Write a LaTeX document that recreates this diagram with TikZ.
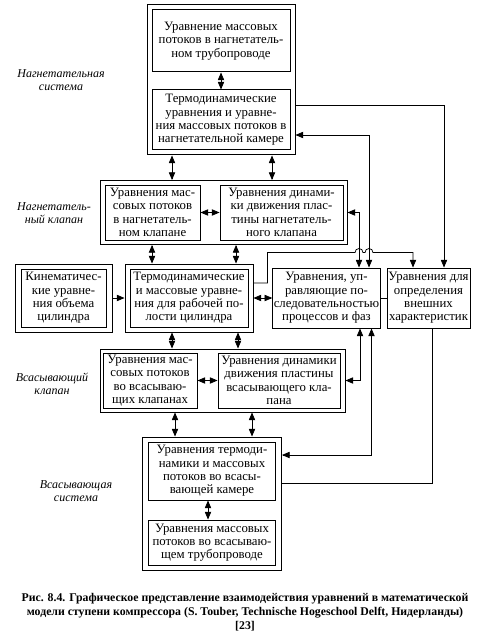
\documentclass[tikz,border=0pt]{standalone}
\usepackage{fontspec}
\setmainfont{Liberation Serif}
\usetikzlibrary{positioning,arrows,calc}
\tikzset{
  eqbox/.style={draw=black, line width=1pt, align=center, inner sep=1pt,
    font=\fontsize{12.8}{13.3}\selectfont},
  frame/.style={draw=black, line width=1pt},
  group/.style={font=\itshape\fontsize{12}{13.5}\selectfont, align=center},
  link/.style={draw=black, line width=0.75pt, >=triangle 45},
  biarrow/.style={link, <->},
  monarrow/.style={link, ->}
}

\begin{document}
\begin{tikzpicture}[x=1pt, y=-1pt]
    \useasboundingbox[fill=white] (0,0) rectangle (501,639);
    % discharge system
    \node[frame, minimum width=148, minimum height=150] (dsys) at (221,80) {};
    \node[eqbox, minimum width=138, minimum height=62] (dpipe) at (221,41)
      {Уравнение массовых\\потоков в нагнетатель-\\ном трубопроводе};
    \node[eqbox, minimum width=138, minimum height=60] (dcham) at (221,120)
      {Термодинамические\\уравнения и уравне-\\ния массовых потоков в\\нагнетательной камере};
    % discharge valve
    \node[frame, minimum width=247, minimum height=64] (dvalve) at (223.5,212.5) {};
    \node[eqbox, minimum width=95, minimum height=55] (dvflow) at (152.5,212.5)
      {Уравнения мас-\\совых потоков\\в нагнетатель-\\ном клапане};
    \node[eqbox, minimum width=123, minimum height=55] (dvdyn) at (281.5,212.5)
      {Уравнения динами-\\ки движения плас-\\тины нагнетатель-\\ного клапана};
    % cylinder row
    \node[frame, minimum width=97, minimum height=68] (kinf) at (63.5,298) {};
    \node[eqbox, minimum width=85, minimum height=58] (kin) at (63.5,298)
      {Кинематичес-\\кие уравне-\\ния объема\\цилиндра};
    \node[frame, minimum width=128, minimum height=68] (cylf) at (189,298) {};
    \node[eqbox, minimum width=118, minimum height=58] (cyl) at (189,298)
      {Термодинамические\\и массовые уравне-\\ния для рабочей по-\\лости цилиндра};
    \node[eqbox, minimum width=107, minimum height=60] (ctrl) at (326.5,298)
      {Уравнения, уп-\\равляющие по-\\следовательностью\\процессов и фаз};
    \node[eqbox, minimum width=83, minimum height=60] (ext) at (428.5,298)
      {Уравнения для\\определения\\внешних\\характеристик};
    % suction valve
    \node[frame, minimum width=245, minimum height=63] (svalve) at (222.5,380.5) {};
    \node[eqbox, minimum width=94, minimum height=55] (svflow) at (150,380.5)
      {Уравнения мас-\\совых потоков\\во всасываю-\\щих клапанах};
    \node[eqbox, minimum width=122, minimum height=55] (svdyn) at (279,380.5)
      {Уравнения динамики\\движения пластины\\всасывающего кла-\\пана};
    % suction system
    \node[frame, minimum width=139, minimum height=133] (ssys) at (212,503.5) {};
    \node[eqbox, minimum width=127, minimum height=58] (scham) at (212,471)
      {Уравнения термоди-\\намики и массовых\\потоков во всасы-\\вающей камере};
    \node[eqbox, minimum width=127, minimum height=45] (spipe) at (212,542.5)
      {Уравнения массовых\\потоков во всасываю-\\щем трубопроводе};
    % labels
    \node[group] (ldsys) at (61,80) {Нагнетательная\\система};
    \node[group] (ldval) at (54,213) {Нагнетатель-\\ный клапан};
    \node[group] (lsval) at (52,384) {Всасывающий\\клапан};
    \node[group] (lssys) at (76,491) {Всасывающая\\система};
    \node[font=\bfseries\fontsize{11.8}{14}\selectfont, align=center] (caption) at (245,612)
      {Рис. 8.4. Графическое представление взаимодействия уравнений в математической\\модели ступени компрессора (S. Touber, Technische Hogeschool Delft, Нидерланды)\\{[23]}};
    %
    \draw[biarrow] (dpipe.south) -- (dcham.north);
    \draw[biarrow] ($(dsys.south)+(-49,0)$) -- ($(dvalve.north)+(-51.5,0)$);
    \draw[biarrow] ($(dsys.south)+(51,0)$) -- ($(dvalve.north)+(48.5,0)$);
    \draw[biarrow] (dvflow) -- (dvdyn);
    \draw[biarrow] ($(dvalve.south)+(-71.5,0)$) -- ($(cylf.north)+(-37,0)$);
    \draw[biarrow] ($(dvalve.south)+(12.5,0)$) -- ($(cylf.north)+(47,0)$);
    \draw[monarrow] (kinf) -- (cylf);
    \draw[biarrow] (cylf) -- (ctrl);
    \draw[link] (ctrl) -- (ext);
    \draw[biarrow] ($(cylf.south)+(-17,0)$) -- ($(svalve.north)+(-50.5,0)$);
    \draw[biarrow] ($(cylf.south)+(49,0)$) -- ($(svalve.north)+(15.5,0)$);
    \draw[biarrow] (svflow) -- (svdyn);
    \draw[biarrow] ($(svalve.south)+(-47.5,0)$) -- ($(ssys.north)+(-37,0)$);
    \draw[biarrow] ($(svalve.south)+(29.5,0)$) -- ($(ssys.north)+(40,0)$);
    \draw[biarrow] ($(scham.south)+(-4,0)$) -- ($(spipe.north)+(-4,0)$);
    % right side feedback lines
    \draw[monarrow] ($(dsys.east)+(0,25)$) -| ($(ext.north)+(15.5,0)$);
    \draw[biarrow] ($(dsys.east)+(0,55)$) -| ($(ctrl.north)+(42.5,0)$);
    \draw[biarrow] (dvalve.east) -| ($(ctrl.north)+(32.5,0)$);
    \draw[biarrow] (svalve.east) -| ($(ctrl.south)+(33.5,0)$);
    \draw[biarrow] ($(ssys.east)+(0,-48.5)$) -| ($(ctrl.south)+(45,0)$);
    \draw[link] ($(ext.south)+(3.5,0)$) |- ($(ssys.east)+(0,-20.5)$);
    \draw[monarrow] ($(cylf.east)+(0,-15)$) -- ++(14,0) |- ($(ctrl.north)+(28.5,-15)$)
      arc[start angle=180, end angle=0, radius=4pt] -- ($(ctrl.north)+(38.5,-15)$)
      arc[start angle=180, end angle=0, radius=4pt] -| ($(ext.north)+(-15.5,0)$);
\end{tikzpicture}
\end{document}
